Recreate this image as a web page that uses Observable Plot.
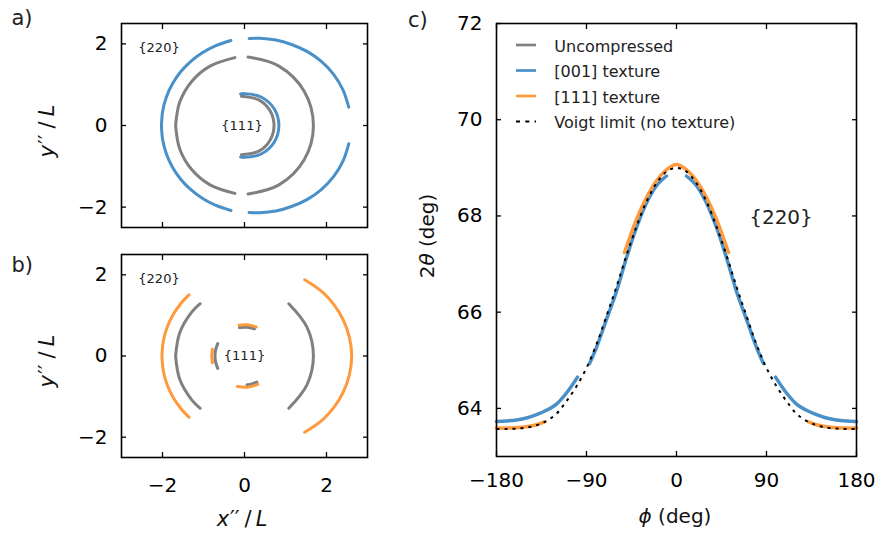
<!DOCTYPE html>
<html><head><meta charset="utf-8">
<script src="https://cdn.jsdelivr.net/npm/d3@7"></script>
<script src="https://cdn.jsdelivr.net/npm/@observablehq/plot@0.6"></script>
<style>
body{margin:0;background:#fff;}
#fig{position:relative;width:881px;height:539px;font-family:"DejaVu Sans";background:#fff;}
#fig svg{position:absolute;left:0;top:0;}
</style></head><body><div id="fig"></div>
<script>
// ---------- data (2θ in degrees vs azimuth φ in degrees; null = no data) ----------
// {220} reflection
const phi001 = [-180,-170,-160,-150,-140,-130,-120,-110,-99,-93,-87,-80,-70,-60,-50,-40,-30,-20,-10,0,10,20,30,40,50,60,70,80,87,93,99,110,120,130,140,150,160,170,180];
const tt001  = [63.73,63.74,63.76,63.80,63.87,63.96,64.09,64.32,64.65,null,64.93,65.27,65.85,66.43,67.13,67.76,68.27,68.63,68.83,null,68.83,68.63,68.27,67.76,67.13,66.43,65.85,65.27,64.93,null,64.65,64.32,64.09,63.96,63.87,63.80,63.76,63.74,63.73];
const phi111 = [-180,-170,-160,-150,-140,-132,-90,-52,-40,-30,-20,-10,0,10,20,30,40,52,90,132,140,150,160,170,180];
const tt111  = [63.59,63.59,63.60,63.62,63.66,63.72,null,67.24,67.93,68.38,68.73,68.96,69.07,68.96,68.73,68.38,67.93,67.24,null,63.72,63.66,63.62,63.60,63.59,63.59];
const phiVoigt = [-180,-170,-160,-150,-140,-130,-120,-110,-100,-90,-80,-70,-60,-50,-40,-30,-20,-10,0,10,20,30,40,50,60,70,80,90,100,110,120,130,140,150,160,170,180];
const ttVoigt  = [63.57,63.57,63.58,63.60,63.65,63.74,63.89,64.15,64.46,64.84,65.33,65.92,66.53,67.18,67.78,68.30,68.68,68.92,69.00,68.92,68.68,68.30,67.78,67.18,66.53,65.92,65.33,64.84,64.46,64.15,63.89,63.74,63.65,63.60,63.58,63.57,63.57];
// uncompressed {220} ring (detector images a, b)
const phiUncA = [-180,-160,-140,-120,-98,-92,-87,-60,-30,0,30,60,87,92,98,120,140,160,180];
const ttUncA  = [59.25,59.25,59.25,59.25,59.25,null,59.25,59.25,59.25,59.25,59.25,59.25,59.25,null,59.25,59.25,59.25,59.25,59.25];
const phiUncB = [-180,-160,-140,-130,-90,-50,-25,0,25,50,90,130,140,160,180];
const ttUncB  = [59.25,59.25,59.25,59.25,null,59.25,59.25,59.25,59.25,59.25,null,59.25,59.25,59.25,59.25];
// {111} reflection (detector images a, b)
const phiUnc111A = [-96,-60,-30,0,30,60,96];
const ttUnc111A  = [35.75,35.75,35.75,35.75,35.75,35.75,35.75];
const phi001_111 = [-97,-90,-60,-30,0,30,60,90,97];
const tt001_111  = [37.9,38.0,38.9,39.75,40.0,39.75,38.9,38.0,37.9];
const phiUnc111B = [-180,-168,-155,-120,-85,-75,-65,0,70,85,100,130,155,168,180];
const ttUnc111B  = [35.75,35.75,35.75,null,35.4,35.4,35.4,null,35.4,35.4,35.4,null,35.75,35.75,35.75];
const phi111_111 = [-180,-168,-130,-103,-85,-65,0,68,85,100,130,168,180];
const tt111_111  = [38.66,38.66,null,37.6,37.6,37.6,null,37.6,37.6,37.6,null,38.66,38.66];
// ticks & labels
const detTicks = [-2,0,2];
const phiTicks = [-180,-90,0,90,180];
const ttTicks = [64,66,68,70,72];
const legendLabels = ["Uncompressed","[001] texture","[111] texture","Voigt limit (no texture)"];

// ---------- styles ----------
const W = 881, H = 539;
const cGrey = "#808080", cBlue = "#4a90c8", cOrange = "#ff9a3c";
const style = {fontFamily: "DejaVu Sans", fontSize: "20px", background: "transparent", overflow: "visible"};
const deg = Math.PI / 180;
const rowsC = (phi, tt) => phi.map((p, i) => ({phi: p, tt: tt[i] == null ? NaN : tt[i]}));
// detector plane: r = L·tan(2θ)
const rowsXY = (phi, tt) => phi.map((p, i) => tt[i] == null ? {x: NaN, y: NaN}
  : {x: Math.tan(tt[i] * deg) * Math.cos(p * deg), y: Math.tan(tt[i] * deg) * Math.sin(p * deg)});

function frameAxes(xt, yt, xLabels, yLabels, xPad, yPad) {
  const none = () => "";
  return [
    Plot.axisX(xt, {anchor: "bottom", tickSize: -5, tickPadding: xPad, strokeWidth: 1.3, label: null, tickFormat: xLabels ? undefined : none}),
    Plot.axisX(xt, {anchor: "top", tickSize: -5, strokeWidth: 1.3, label: null, tickFormat: none}),
    Plot.axisY(yt, {anchor: "left", tickSize: -5, tickPadding: yPad, strokeWidth: 1.3, label: null, tickFormat: yLabels ? undefined : none}),
    Plot.axisY(yt, {anchor: "right", tickSize: -5, strokeWidth: 1.3, label: null, tickFormat: none}),
    Plot.frame({stroke: "black", strokeWidth: 1.6})
  ];
}
const ring = (phi, tt, color, sw = 3) =>
  Plot.line(rowsXY(phi, tt), {x: "x", y: "y", stroke: color, strokeWidth: sw, curve: "catmull-rom"});

const fig = document.getElementById("fig");

// panel a
fig.appendChild(Plot.plot({
  width: W, height: H, marginLeft: 121, marginRight: 514, marginTop: 23, marginBottom: 312,
  x: {domain: [-3, 3]}, y: {domain: [-2.5, 2.5]}, style,
  marks: [
    ring(phiUncA, ttUncA, cGrey),
    ring(phi001, tt001, cBlue),
    ring(phiUnc111A, ttUnc111A, cGrey),
    ring(phi001_111, tt001_111, cBlue),
    ...frameAxes(detTicks, detTicks, false, true, 25, 19)
  ]
}));
// panel b
fig.appendChild(Plot.plot({
  width: W, height: H, marginLeft: 121, marginRight: 514, marginTop: 254, marginBottom: 82,
  x: {domain: [-3, 3]}, y: {domain: [-2.5, 2.5]}, style,
  marks: [
    ring(phiUncB, ttUncB, cGrey),
    ring(phi111, tt111, cOrange),
    ring(phiUnc111B, ttUnc111B, cGrey),
    ring(phi111_111, tt111_111, cOrange),
    ...frameAxes(detTicks, detTicks, true, true, 25, 19)
  ]
}));
// panel c
fig.appendChild(Plot.plot({
  width: W, height: H, marginLeft: 496, marginRight: 25, marginTop: 23, marginBottom: 83,
  x: {domain: [-180, 180]}, y: {domain: [63, 72]}, style,
  marks: [
    Plot.line(rowsC(phi001, tt001), {x: "phi", y: "tt", stroke: cBlue, strokeWidth: 3.5, curve: "catmull-rom"}),
    Plot.line(rowsC(phi111, tt111), {x: "phi", y: "tt", stroke: cOrange, strokeWidth: 3.5, curve: "catmull-rom"}),
    Plot.line(rowsC(phiVoigt, ttVoigt), {x: "phi", y: "tt", stroke: "black", strokeWidth: 2, strokeDasharray: "3,5", strokeLinecap: "butt", curve: "catmull-rom"}),
    ...frameAxes(phiTicks, ttTicks, true, true, 21.5, 19)
  ]
}));

// ---------- annotations overlay ----------
const svg = d3.select(fig).append("svg").attr("width", W).attr("height", H)
  .attr("font-family", "DejaVu Sans").style("overflow", "visible");
const txt = (x, y, s, size, anchor = "start") => svg.append("text").attr("x", x).attr("y", y)
  .attr("font-size", size).attr("text-anchor", anchor).attr("fill", "#222").text(s);
txt(11.5, 25, "a)", 21);
txt(11.5, 271.5, "b)", 21);
txt(408, 27, "c)", 21);
txt(159, 51.5, "{220}", 13, "middle");
txt(242, 130, "{111}", 13, "middle");
txt(159, 283, "{220}", 13, "middle");
txt(244.5, 360, "{111}", 13, "middle");
txt(781, 223.5, "{220}", 20, "middle");

// parts: [text, italic, dx]
function mathLabel(x, y, rot, parts, size = 20) {
  const t = svg.append("text").attr("transform", `translate(${x},${y}) rotate(${rot})`)
    .attr("font-size", size).attr("text-anchor", "middle").attr("fill", "#111");
  parts.forEach(([s, it, dx]) => t.append("tspan").attr("font-style", it ? "italic" : null)
    .attr("dx", dx || null).text(s));
}
mathLabel(53.5, 131, -90, [["y", 1], ["′′", 0, 1], ["/", 0, 6], ["L", 1, 5]], 21);
mathLabel(53.5, 361, -90, [["y", 1], ["′′", 0, 1], ["/", 0, 6], ["L", 1, 5]], 21);
mathLabel(242, 526, 0, [["x", 1], ["′′", 0, 1], ["/", 0, 5], ["L", 1, 4]], 21);
mathLabel(433.5, 236, -90, [["2", 0], ["θ", 1], [" (deg)", 0]]);
mathLabel(675, 523, 0, [["ϕ", 1], [" (deg)", 0]]);

// legend
const legColors = [cGrey, cBlue, cOrange, "black"];
const legDash = [null, null, null, "4,5.3"];
legendLabels.forEach((s, i) => {
  const y = 45 + i * 25.5;
  svg.append("line").attr("x1", 516).attr("x2", 536).attr("y1", y).attr("y2", y)
    .attr("stroke", legColors[i]).attr("stroke-width", i === 3 ? 2.2 : 2.7)
    .attr("stroke-dasharray", legDash[i]);
  svg.append("text").attr("x", 554.3).attr("y", y + 6.5).attr("font-size", 16)
    .attr("fill", "#222").text(s);
});
</script></body></html>
